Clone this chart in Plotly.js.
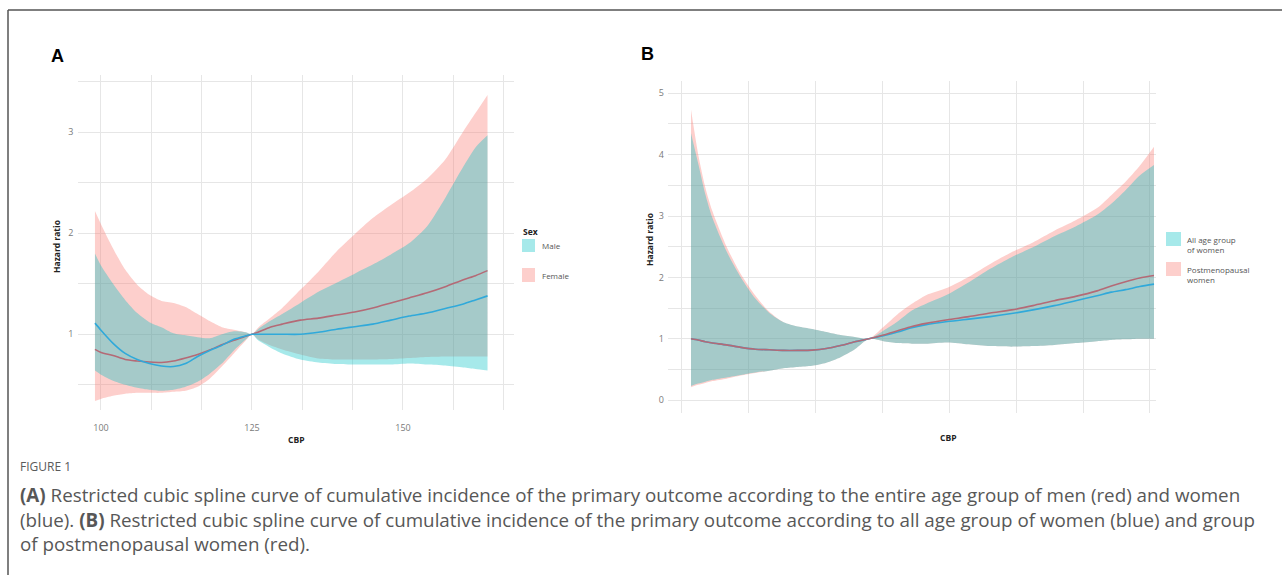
<!DOCTYPE html>
<html>
<head>
<meta charset="utf-8">
<script src="https://cdn.plot.ly/plotly-3.0.1.min.js"></script>
<style>
  html, body { margin: 0; padding: 0; background: #ffffff; overflow: hidden; }
  #chart { width: 1282px; height: 575px; }
</style>
</head>
<body>
<div id="chart"></div>
<script>
// ---------------- Panel A data (CBP vs hazard ratio, by sex) ----------------
const cbpA = [99, 100, 102, 104, 106, 108, 110, 112, 114, 116, 118, 120, 122, 124, 125,
              126, 128, 130, 133, 136, 139, 142, 145, 148, 151, 154, 157, 160, 162, 164];
const femaleHR    = [0.85, 0.82, 0.79, 0.75, 0.735, 0.725, 0.72, 0.735, 0.765, 0.80, 0.845, 0.895, 0.94, 0.98, 1.0,
                     1.02, 1.07, 1.10, 1.14, 1.16, 1.19, 1.22, 1.26, 1.31, 1.36, 1.41, 1.47, 1.54, 1.58, 1.63];
const femaleUpper = [2.22, 2.09, 1.85, 1.64, 1.49, 1.39, 1.33, 1.31, 1.27, 1.20, 1.13, 1.07, 1.045, 1.02, 1.0,
                     1.065, 1.16, 1.26, 1.44, 1.62, 1.82, 1.99, 2.15, 2.28, 2.40, 2.54, 2.73, 3.01, 3.19, 3.37];
const femaleLower = [0.34, 0.36, 0.39, 0.41, 0.42, 0.42, 0.42, 0.43, 0.44, 0.48, 0.56, 0.68, 0.81, 0.94, 1.0,
                     0.95, 0.89, 0.85, 0.80, 0.76, 0.75, 0.75, 0.75, 0.755, 0.765, 0.775, 0.78, 0.78, 0.78, 0.78];
const maleHR      = [1.11, 1.04, 0.91, 0.81, 0.75, 0.71, 0.685, 0.68, 0.71, 0.78, 0.84, 0.89, 0.95, 0.985, 1.0,
                     1.0, 1.0, 1.0, 1.0, 1.02, 1.05, 1.075, 1.10, 1.14, 1.18, 1.21, 1.255, 1.30, 1.34, 1.38];
const maleUpper   = [1.80, 1.68, 1.50, 1.34, 1.21, 1.12, 1.07, 1.01, 0.99, 0.97, 0.96, 1.0, 1.03, 1.02, 1.0,
                     1.05, 1.13, 1.20, 1.31, 1.42, 1.51, 1.60, 1.69, 1.79, 1.90, 2.07, 2.35, 2.66, 2.85, 2.97];
const maleLower   = [0.64, 0.60, 0.54, 0.50, 0.47, 0.45, 0.44, 0.45, 0.48, 0.53, 0.61, 0.71, 0.84, 0.95, 1.0,
                     0.94, 0.87, 0.81, 0.75, 0.72, 0.705, 0.70, 0.70, 0.70, 0.71, 0.70, 0.69, 0.67, 0.655, 0.64];

// ---------------- Panel B data (all women vs postmenopausal women) ----------------
const cbpB = [99, 100, 101, 102, 104, 106, 108, 110, 112, 114, 116, 118, 120, 122, 124,
              126, 128, 130, 132, 135, 138, 141, 144, 147, 150, 153, 156, 158, 160, 162, 164];
const allHR      = [1.0, 0.98, 0.95, 0.93, 0.90, 0.86, 0.83, 0.82, 0.81, 0.81, 0.815, 0.84, 0.89, 0.95, 1.0,
                    1.05, 1.11, 1.18, 1.23, 1.28, 1.32, 1.36, 1.41, 1.47, 1.54, 1.62, 1.70, 1.76, 1.80, 1.85, 1.89];
const allUpper   = [4.35, 3.86, 3.36, 2.97, 2.42, 2.0, 1.66, 1.42, 1.27, 1.20, 1.16, 1.11, 1.06, 1.03, 1.0,
                    1.13, 1.28, 1.46, 1.57, 1.72, 1.92, 2.14, 2.33, 2.49, 2.67, 2.83, 3.02, 3.20, 3.42, 3.66, 3.83];
const allLower   = [0.23, 0.27, 0.30, 0.33, 0.37, 0.41, 0.45, 0.48, 0.52, 0.54, 0.56, 0.61, 0.70, 0.83, 1.0,
                    0.96, 0.93, 0.92, 0.92, 0.94, 0.91, 0.88, 0.87, 0.88, 0.90, 0.93, 0.96, 0.98, 0.99, 1.0, 1.0];
const postHR     = [1.0, 0.98, 0.95, 0.93, 0.90, 0.86, 0.83, 0.82, 0.81, 0.81, 0.815, 0.84, 0.89, 0.95, 1.0,
                    1.06, 1.13, 1.20, 1.25, 1.31, 1.36, 1.42, 1.47, 1.54, 1.62, 1.69, 1.78, 1.86, 1.93, 1.99, 2.03];
const postUpper  = [4.73, 4.01, 3.47, 3.08, 2.50, 2.05, 1.71, 1.44, 1.27, 1.20, 1.16, 1.11, 1.06, 1.03, 1.0,
                    1.19, 1.40, 1.57, 1.71, 1.83, 2.01, 2.22, 2.41, 2.57, 2.76, 2.93, 3.13, 3.34, 3.56, 3.82, 4.13];
const postLower  = [0.21, 0.25, 0.28, 0.31, 0.35, 0.40, 0.44, 0.48, 0.52, 0.54, 0.56, 0.61, 0.70, 0.83, 1.0,
                    0.96, 0.93, 0.92, 0.92, 0.94, 0.91, 0.88, 0.87, 0.88, 0.90, 0.93, 0.96, 0.98, 0.99, 1.0, 1.0];

// ---------------- Tick labels ----------------
const xTickLabelsA = ['100', '', '', '125', '', '', '150', '', ''];
const yTickLabelsA = ['', '1', '', '2', '', '3', ''];
const yTickLabelsB = ['0', '', '1', '', '2', '', '3', '', '4', '', '5'];

// ---------------- Style ----------------
const W = 1282, H = 575;
const px = x => x / W;
const py = y => 1 - y / H;
const PINK_FILL = 'rgba(248,118,109,0.35)';
const CYAN_FILL = 'rgba(0,191,196,0.35)';
const RED_LINE = '#b46a76';
const BLUE_LINE = '#30a9da';
const GRID = '#e6e6e6';
const TICKFONT = {family: 'Open Sans, sans-serif', size: 9, color: '#7a7a7a'};

function band(x, lo, hi, fill, xa, ya) {
  return [
    {x: x, y: lo, xaxis: xa, yaxis: ya, type: 'scatter', mode: 'lines',
     line: {width: 0, shape: 'spline', smoothing: 0.7}, hoverinfo: 'skip', showlegend: false},
    {x: x, y: hi, xaxis: xa, yaxis: ya, type: 'scatter', mode: 'lines', fill: 'tonexty', fillcolor: fill,
     line: {width: 0, shape: 'spline', smoothing: 0.7}, hoverinfo: 'skip', showlegend: false}
  ];
}
function curve(x, y, color, xa, ya) {
  return {x: x, y: y, xaxis: xa, yaxis: ya, type: 'scatter', mode: 'lines',
          line: {color: color, width: 1.6, shape: 'spline', smoothing: 0.7}, showlegend: false};
}

const traces = [].concat(
  band(cbpA, femaleLower, femaleUpper, PINK_FILL, 'x', 'y'),
  band(cbpA, maleLower, maleUpper, CYAN_FILL, 'x', 'y'),
  [curve(cbpA, femaleHR, RED_LINE, 'x', 'y'), curve(cbpA, maleHR, BLUE_LINE, 'x', 'y')],
  band(cbpB, postLower, postUpper, PINK_FILL, 'x2', 'y2'),
  band(cbpB, allLower, allUpper, CYAN_FILL, 'x2', 'y2'),
  [curve(cbpB, allHR, BLUE_LINE, 'x2', 'y2'), curve(cbpB, postHR, RED_LINE, 'x2', 'y2')]
);

const xGridA = xTickLabelsA.map((_, i) => 100 + i * 25 / 3);
const yGridA = yTickLabelsA.map((_, i) => 0.5 + i * 0.5);
const xGridB = Array.from({length: 8}, (_, i) => 97.7 + i * 9.39);
const yGridB = yTickLabelsB.map((_, i) => i * 0.5);

const axisCommon = {showgrid: true, gridcolor: GRID, gridwidth: 1, zeroline: false, showline: false,
                    ticks: '', tickfont: TICKFONT, fixedrange: true};

const titleFont = {family: 'Open Sans, sans-serif', size: 8.5, color: '#222'};
const legFont = {family: 'Open Sans, sans-serif', size: 8, color: '#555'};
const capFont = {family: 'Open Sans, sans-serif', size: 18.8, color: '#575757'};

function ann(text, x, y, font, opts) {
  return Object.assign({text: text, x: px(x), y: py(y), xref: 'paper', yref: 'paper', showarrow: false,
                        font: font, xanchor: 'center', yanchor: 'middle'}, opts || {});
}
function rect(x0, y0, x1, y1, fill) {
  return {type: 'rect', xref: 'paper', yref: 'paper', x0: px(x0), x1: px(x1), y0: py(y1), y1: py(y0),
          fillcolor: fill, line: {width: 0}, layer: 'above'};
}

const layout = {
  width: W, height: H,
  margin: {l: 0, r: 0, t: 0, b: 0},
  paper_bgcolor: '#ffffff', plot_bgcolor: '#ffffff',
  showlegend: false,
  xaxis: Object.assign({}, axisCommon, {domain: [px(77.5), px(513.5)], range: [96.11, 168.3],
          tickvals: xGridA, ticktext: xTickLabelsA, anchor: 'y', ticklabelstandoff: 11}),
  yaxis: Object.assign({}, axisCommon, {domain: [py(410), py(75)], range: [0.25, 3.567],
          tickvals: yGridA, ticktext: yTickLabelsA, anchor: 'x', ticklabelstandoff: 3}),
  xaxis2: Object.assign({}, axisCommon, {domain: [px(668), px(1155.8)], range: [95.77, 164.25],
          tickvals: xGridB, ticktext: xGridB.map(() => ''), anchor: 'y2'}),
  yaxis2: Object.assign({}, axisCommon, {domain: [py(413), py(81)], range: [-0.21, 5.20],
          tickvals: yGridB, ticktext: yTickLabelsB, anchor: 'x2', ticklabelstandoff: 3}),
  shapes: [
    {type: 'line', xref: 'paper', yref: 'paper', x0: px(8), x1: 1, y0: py(10), y1: py(10),
     line: {color: '#555555', width: 1.5}},
    {type: 'line', xref: 'paper', yref: 'paper', x0: px(8), x1: px(8), y0: py(10), y1: 0,
     line: {color: '#555555', width: 1.5}},
    rect(522, 239, 535, 252, 'rgba(0,191,196,0.35)'),
    rect(522, 268, 535, 282, 'rgba(248,118,109,0.35)'),
    rect(1166, 232, 1181, 246, 'rgba(0,191,196,0.35)'),
    rect(1166, 262, 1181, 276, 'rgba(248,118,109,0.35)')
  ],
  annotations: [
    ann('<b>A</b>', 57, 56, {family: 'Liberation Sans, Arial, sans-serif', size: 18, color: '#000'}),
    ann('<b>B</b>', 647, 54, {family: 'Liberation Sans, Arial, sans-serif', size: 18, color: '#000'}),
    ann('<b>Hazard ratio</b>', 57, 247, titleFont, {textangle: -90}),
    ann('<b>Hazard ratio</b>', 650, 239, titleFont, {textangle: -90}),
    ann('<b>CBP</b>', 296, 439, titleFont),
    ann('<b>CBP</b>', 948, 437, titleFont),
    ann('<b>Sex</b>', 521, 231, titleFont, {xanchor: 'left'}),
    ann('Male', 540, 245.5, legFont, {xanchor: 'left'}),
    ann('Female', 540, 275, legFont, {xanchor: 'left'}),
    ann('All age group<br>of women', 1185, 244.5, legFont, {xanchor: 'left', align: 'left'}),
    ann('Postmenopausal<br>women', 1185, 274.5, legFont, {xanchor: 'left', align: 'left'}),
    ann('FIGURE 1', 18, 466, {family: 'Open Sans, sans-serif', size: 12, color: '#5a5a5a'}, {xanchor: 'left'}),
    ann('<b>(A)</b> Restricted cubic spline curve of cumulative incidence of the primary outcome according to the entire age group of men (red) and women',
        18, 495, capFont, {xanchor: 'left'}),
    ann('(blue). <b>(B)</b> Restricted cubic spline curve of cumulative incidence of the primary outcome according to all age group of women (blue) and group',
        18, 519.5, capFont, {xanchor: 'left'}),
    ann('of postmenopausal women (red).', 18, 544, capFont, {xanchor: 'left'})
  ]
};

Plotly.newPlot('chart', traces, layout, {staticPlot: true, displayModeBar: false});
</script>
</body>
</html>
